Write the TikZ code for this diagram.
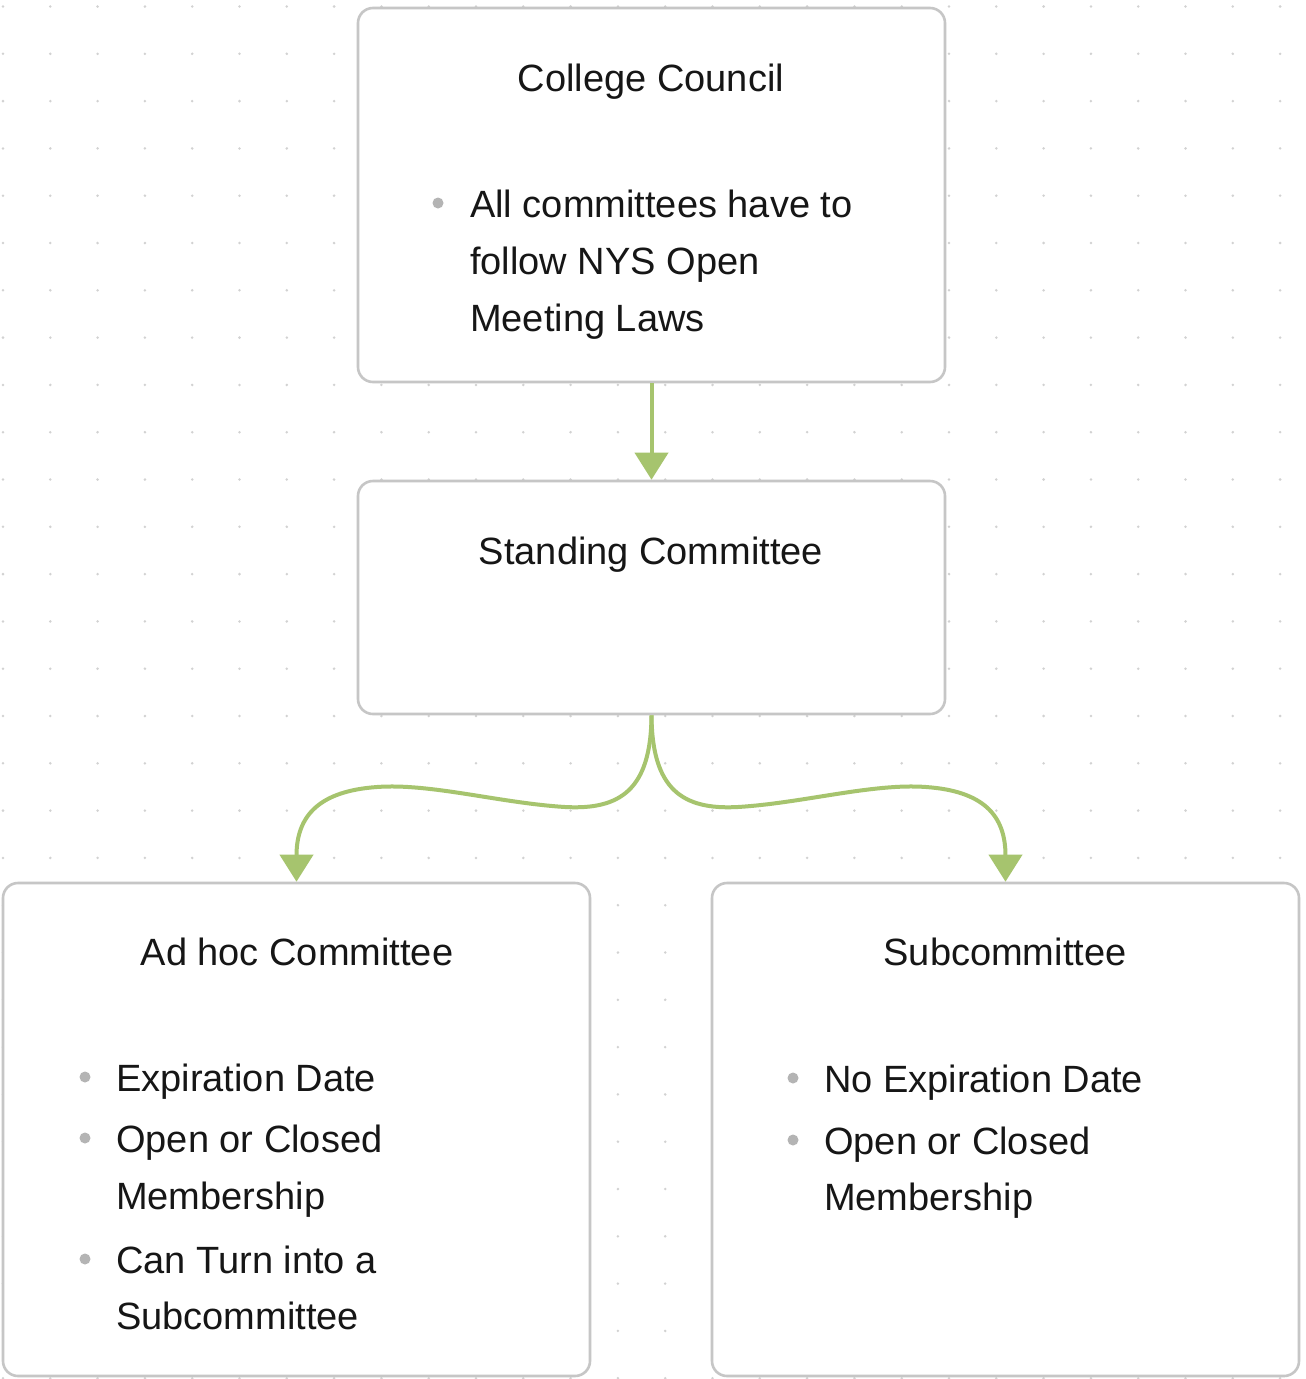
\documentclass[tikz,border=0pt]{standalone}
\usepackage{fontspec}
\setmainfont{Liberation Sans}
\usetikzlibrary{arrows.meta,calc}
\definecolor{linkgreen}{HTML}{A6C46E}
\definecolor{boxline}{HTML}{C6C6C6}
\definecolor{gridgray}{HTML}{D2D2D2}
\definecolor{bulletgray}{HTML}{B4B4B4}
\definecolor{ink}{HTML}{161616}
\tikzset{
  card/.style={draw=boxline, line width=2.6pt, fill=white, rounded corners=15pt,
    minimum width=587pt, inner sep=0pt},
  heading/.style={font=\fontsize{38}{46}\selectfont, text=ink, inner sep=0pt,
    text height=27.4pt, text depth=0pt},
  line/.style={font=\fontsize{38}{46}\selectfont, text=ink, inner sep=0pt, anchor=west,
    text height=27.4pt, text depth=0pt},
  dot/.style={fill=bulletgray, circle, inner sep=0pt, minimum size=11pt},
  link/.style={draw=linkgreen, line width=4pt,
    -{Triangle[width=33pt,length=27pt]}, shorten >=0pt},
}
\begin{document}
\begin{tikzpicture}[x=1pt,y=-1pt]
  \useasboundingbox (0,0) rectangle (1306,1379);
  \fill[white] (0,0) rectangle (1306,1379);
  % dotted canvas grid
  \foreach \i in {0,...,27}{
    \foreach \j in {0,...,29}{
      \fill[gridgray] ({3+47.3*\i},{6.5+47.3*\j}) circle (1.4pt);
    }
  }
  % cards
  \node[card, minimum height=374pt] (cc)  at (651.5,195)    {};
  \node[card, minimum height=233pt] (sc)  at (651.5,597.5)  {};
  \node[card, minimum height=493pt] (ah)  at (296.5,1129.5) {};
  \node[card, minimum height=493pt] (sub) at (1005.5,1129.5) {};

  % College Council
  \node[heading] (cct) at (651,78) {College Council};
  \node[dot] (cc1) at (438,203) {};
  \node[line] (cca) at (470,204) {All committees have to};
  \node[line] (ccb) at (470,261) {follow NYS Open};
  \node[line] (ccc) at (470,318) {Meeting Laws};

  % Standing Committee
  \node[heading] (sct) at (651,551) {Standing Committee};

  % Ad hoc Committee
  \node[heading] (aht) at (297,952) {Ad hoc Committee};
  \node[dot] (ah1) at (85,1077) {};
  \node[line] (aha) at (116,1078) {Expiration Date};
  \node[dot] (ah2) at (85,1138) {};
  \node[line] (ahb) at (116,1139) {Open or Closed};
  \node[line] (ahc) at (116,1196) {Membership};
  \node[dot] (ah3) at (85,1259) {};
  \node[line] (ahd) at (116,1260) {Can Turn into a};
  \node[line] (ahe) at (116,1316) {Subcommittee};

  % Subcommittee
  \node[heading] (subt) at (1005,952) {Subcommittee};
  \node[dot] (sub1) at (793,1078) {};
  \node[line] (suba) at (824,1079) {No Expiration Date};
  \node[dot] (sub2) at (793,1140) {};
  \node[line] (subb) at (824,1141) {Open or Closed};
  \node[line] (subc) at (824,1197) {Membership};

  % connectors
  \draw[link] (cc.south) -- (sc.north);
  \coordinate (lw1) at (565,807);
  \coordinate (lw2) at (377,787);
  \coordinate (rw1) at (738,807);
  \coordinate (rw2) at (926,787);
  \draw[link] (sc.south) .. controls (651,790) and (620,810) .. (lw1)
    .. controls (500,803) and (430,783) .. (lw2)
    .. controls (320,791) and (296.5,815) .. (ah.north);
  \draw[link] (sc.south) .. controls (652,790) and (683,810) .. (rw1)
    .. controls (803,803) and (873,783) .. (rw2)
    .. controls (983,791) and (1005.5,815) .. (sub.north);
\end{tikzpicture}
\end{document}
